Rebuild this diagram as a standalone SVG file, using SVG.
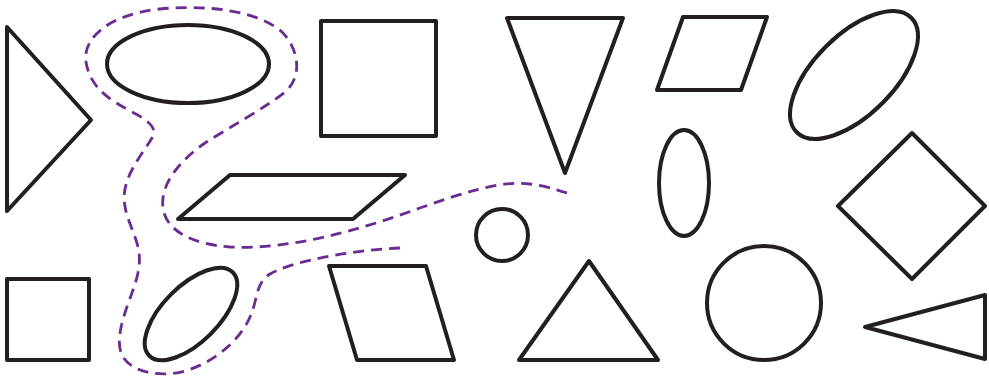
<svg xmlns="http://www.w3.org/2000/svg" width="989" height="381" viewBox="0 0 989 381">
<style>
.s{fill:none;stroke:#231f20;stroke-width:4;stroke-linejoin:round;}
.d{fill:none;stroke:#6a2c91;stroke-width:2.8;stroke-dasharray:11 7;}
</style>
<rect width="989" height="381" fill="#fff"/>
<g id="shapes">
<polygon id="tri-left" class="s" points="7,27 91,120 7,211"/>
<rect id="sq-bl" class="s" x="7" y="279" width="82" height="81"/>
<ellipse id="ell-top" class="s" cx="188" cy="64" rx="81" ry="39"/>
<rect id="sq-top" class="s" x="321" y="21" width="115" height="115"/>
<polygon id="tri-down" class="s" points="507,18 623,18 565,173"/>
<polygon id="para-tr" class="s" points="683,17 767,17 741,90 657,90"/>
<ellipse id="ell-v" class="s" cx="684" cy="183" rx="25" ry="53"/>
<ellipse id="ell-tr" class="s" cx="854" cy="75" rx="81" ry="40" transform="rotate(-45 854 75)"/>
<polygon id="diamond" class="s" points="912,133 985,206 912,279 838,206"/>
<circle id="circ-big" class="s" cx="764" cy="303" r="57"/>
<polygon id="tri-br" class="s" points="865,327 985,295 985,359"/>
<polygon id="tri-up" class="s" points="519,360 589,261 658,360"/>
<circle id="circ-small" class="s" cx="502" cy="235" r="26"/>
<polygon id="para-long" class="s" points="230,175 405,175 353,219 178,219"/>
<polygon id="para-bot" class="s" points="329,266 426,266 454,360 357,360"/>
<ellipse id="ell-bl" class="s" cx="191" cy="314" rx="59" ry="28" transform="rotate(-45 191 314)"/>
</g>
<g id="connectors">
<path class="d" d="M400,248 C350,250 290,262 270,274 C255,283 258,300 250,317 C240,340 215,362 185,371 C160,378 130,372 122,355 C114,338 126,310 133,290 C141,268 141,255 136,240 C130,222 120,205 126,185 C130,168 145,150 152,138 C158,128 148,120 132,112 C110,100 90,88 86,62 C82,38 110,14 160,9 C210,4 260,12 282,32 C300,50 302,78 285,92 C265,108 230,127 205,143 C178,162 160,185 163,208 C166,230 190,244 230,247 C290,250 360,230 420,208 C460,194 500,180 530,184 C550,186 560,192 573,194"/>
</g>
</svg>
